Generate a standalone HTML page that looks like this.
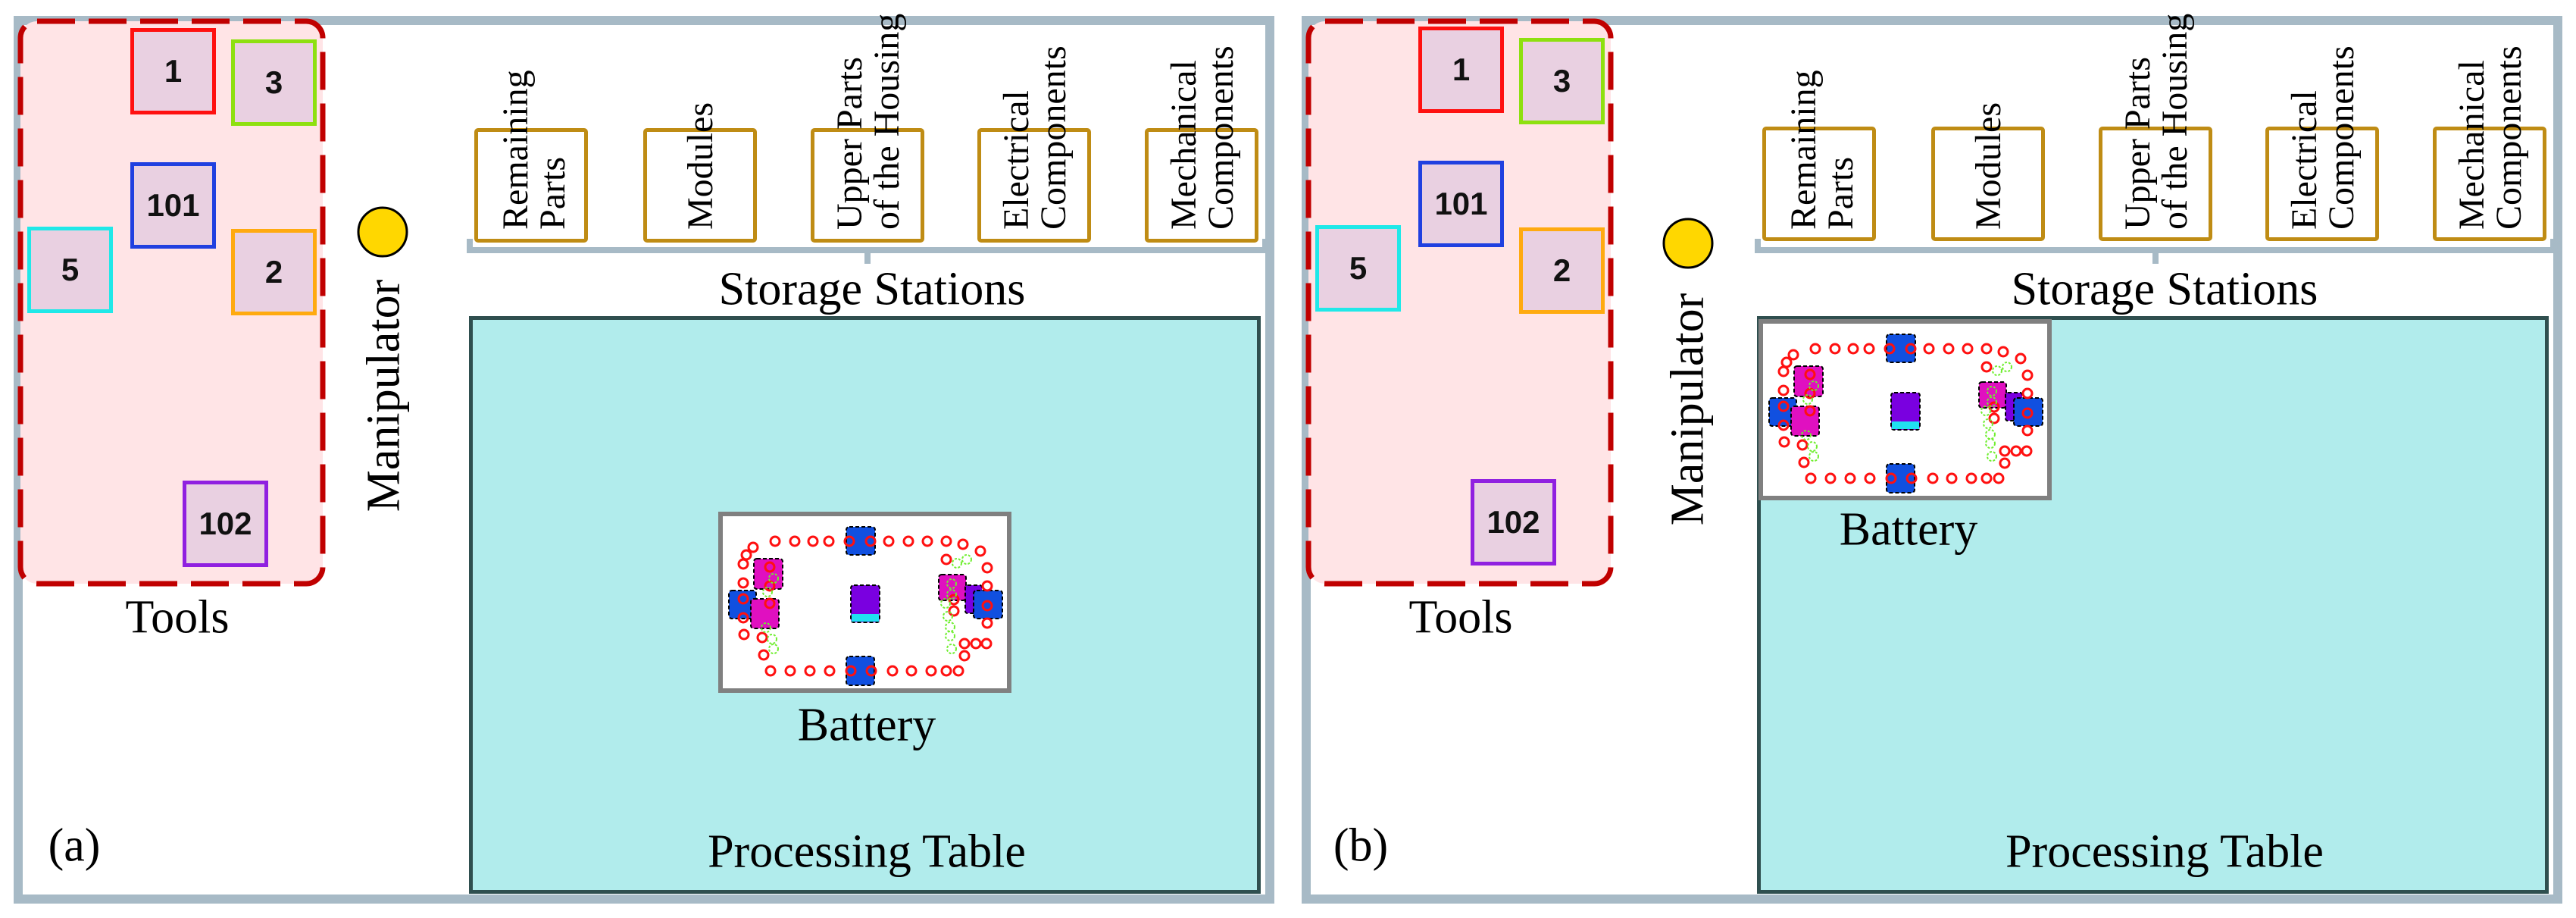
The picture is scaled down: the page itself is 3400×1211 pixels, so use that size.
<!DOCTYPE html>
<html><head><meta charset="utf-8"><style>
body{margin:0;width:3400px;height:1211px;background:#fff;position:relative;overflow:hidden;font-family:"Liberation Serif",serif}
.a{position:absolute}
.frame{border:12px solid #a7bac6;box-sizing:border-box}
.tb{position:absolute;box-sizing:border-box;border:5px solid;background:#e9d0e1;font:bold 42px "Liberation Sans",sans-serif;color:#111;display:flex;align-items:center;justify-content:center}
.st{position:absolute;box-sizing:border-box;border:5px solid #bf8c14;border-radius:5px;background:#fff;top:169px;height:151px;width:150px}
.vt{position:absolute;top:303px;transform-origin:0 0;transform:rotate(-90deg);font-family:"Liberation Serif",serif;font-size:48px;line-height:49px;white-space:nowrap;color:#000}
.lbl{position:absolute;font-family:"Liberation Serif",serif;font-size:62px;color:#000;white-space:nowrap;transform:translate(-50%,-50%)}
</style></head><body>
<svg width="0" height="0" style="position:absolute">
<defs>
<g id="bat">
<rect x="0" y="0" width="381" height="233" fill="#fff" stroke="#808080" stroke-width="6"/>
<g stroke="#000" stroke-width="2" stroke-dasharray="5 3">
<rect x="166" y="17" width="38" height="37" rx="4" fill="#1150e0"/>
<rect x="166" y="188" width="37" height="38" rx="4" fill="#1150e0"/>
<rect x="172" y="94" width="38" height="49" rx="4" fill="#7a00e0"/>
<rect x="11" y="101" width="36" height="37" rx="4" fill="#1150e0"/>
<rect x="44" y="59" width="38" height="40" rx="4" fill="#e010c0"/>
<rect x="40" y="112" width="37" height="39" rx="4" fill="#e010c0"/>
<rect x="288" y="80" width="36" height="34" rx="4" fill="#e010c0"/>
<rect x="323" y="94" width="22" height="37" rx="3" fill="#7a00e0"/>
<rect x="334" y="101" width="38" height="37" rx="4" fill="#1150e0"/>
</g>
<rect x="173" y="132" width="36" height="10" fill="#20e0f0"/>
<g fill="none" stroke="#ff1010" stroke-width="3">
<circle cx="72" cy="36" r="6"/><circle cx="98" cy="36" r="6"/><circle cx="122" cy="36" r="6"/><circle cx="143" cy="36" r="6"/><circle cx="170" cy="36" r="6"/><circle cx="198" cy="36" r="6"/><circle cx="222" cy="36" r="6"/><circle cx="248" cy="36" r="6"/><circle cx="273" cy="36" r="6"/><circle cx="298" cy="36" r="6"/><circle cx="320" cy="40" r="6"/>
<circle cx="66" cy="207" r="6"/><circle cx="92" cy="207" r="6"/><circle cx="118" cy="207" r="6"/><circle cx="144" cy="207" r="6"/><circle cx="172" cy="207" r="6"/><circle cx="199" cy="207" r="6"/><circle cx="227" cy="207" r="6"/><circle cx="252" cy="207" r="6"/><circle cx="278" cy="207" r="6"/><circle cx="298" cy="207" r="6"/><circle cx="314" cy="207" r="6"/>
<circle cx="43" cy="44" r="6"/><circle cx="34" cy="54" r="6"/><circle cx="30" cy="66" r="6"/><circle cx="30" cy="91" r="6"/><circle cx="30" cy="112" r="6"/><circle cx="30" cy="137" r="6"/><circle cx="31" cy="159" r="6"/>
<circle cx="343" cy="49" r="6"/><circle cx="352" cy="71" r="6"/><circle cx="352" cy="95" r="6"/><circle cx="352" cy="121" r="6"/><circle cx="352" cy="144" r="6"/>
<circle cx="322" cy="171" r="6"/><circle cx="337" cy="171" r="6"/><circle cx="351" cy="171" r="6"/><circle cx="322" cy="187" r="6"/>
<circle cx="55" cy="163" r="6"/><circle cx="57" cy="186" r="6"/><circle cx="65" cy="70" r="6"/><circle cx="65" cy="95" r="6"/><circle cx="65" cy="118" r="6"/><circle cx="308" cy="113" r="6"/><circle cx="308" cy="128" r="6"/><circle cx="298" cy="60" r="6"/>
</g>
<g fill="none" stroke="#70ee30" stroke-width="2" stroke-dasharray="3 2">
<circle cx="60" cy="150" r="6"/><circle cx="68" cy="165" r="6"/><circle cx="70" cy="178" r="6"/><circle cx="62" cy="103" r="6"/><circle cx="70" cy="85" r="6"/>
<circle cx="305" cy="92" r="6"/><circle cx="305" cy="106" r="6"/><circle cx="297" cy="118" r="6"/><circle cx="300" cy="135" r="6"/><circle cx="303" cy="149" r="6"/><circle cx="303" cy="161" r="6"/><circle cx="305" cy="178" r="6"/><circle cx="312" cy="65" r="6"/><circle cx="325" cy="60" r="6"/>
</g>
</g>
</defs></svg>

<!-- PANEL A -->
<div class="a frame" style="left:18px;top:21px;width:1664px;height:1171px"></div>
<svg class="a" style="left:0;top:0" width="1700" height="1211">
<rect x="27" y="28" width="399" height="742" rx="22" fill="#ffe4e6" stroke="#c00000" stroke-width="7" stroke-dasharray="50 18"/>
<path d="M620 315 V330 H1670 V315 M1145 330 V348" fill="none" stroke="#a7bac6" stroke-width="8"/>
<circle cx="505" cy="306" r="32" fill="#ffd700" stroke="#000" stroke-width="3"/>
<rect x="621.5" y="419.5" width="1040" height="757" fill="#b1ecec" stroke="#2f4f4f" stroke-width="5"/>
<use href="#bat" x="951" y="678"/>
</svg>
<div class="tb" style="left:172px;top:37px;width:113px;height:114px;border-color:#ff1010">1</div>
<div class="tb" style="left:305px;top:52px;width:113px;height:114px;border-color:#8ee010">3</div>
<div class="tb" style="left:172px;top:214px;width:113px;height:114px;border-color:#2040e0">101</div>
<div class="tb" style="left:36px;top:299px;width:113px;height:114px;border-color:#20e8e8">5</div>
<div class="tb" style="left:305px;top:302px;width:113px;height:114px;border-color:#ffaa10">2</div>
<div class="tb" style="left:241px;top:634px;width:113px;height:114px;border-color:#9020e0">102</div>
<div class="lbl" style="left:234px;top:815px">Tools</div>
<div class="lbl" style="left:507px;top:522px;transform:translate(-50%,-50%) rotate(-90deg)">Manipulator</div>
<div class="st" style="left:626px"></div><div class="st" style="left:849px"></div><div class="st" style="left:1070px"></div><div class="st" style="left:1290px"></div><div class="st" style="left:1511px"></div>
<div class="vt" style="left:656px">Remaining<br>Parts</div>
<div class="vt" style="left:900px">Modules</div>
<div class="vt" style="left:1097px">Upper Parts<br>of the Housing</div>
<div class="vt" style="left:1317px">Electrical<br>Components</div>
<div class="vt" style="left:1538px">Mechanical<br>Components</div>
<div class="lbl" style="left:1151px;top:382px">Storage Stations</div>
<div class="lbl" style="left:1144px;top:957px">Battery</div>
<div class="lbl" style="left:1144px;top:1124px">Processing Table</div>
<div class="lbl" style="left:98px;top:1116px">(a)</div>

<!-- PANEL B -->
<div class="a frame" style="left:1718px;top:21px;width:1664px;height:1171px"></div>
<svg class="a" style="left:1700px;top:0" width="1700" height="1211">
<rect x="27" y="28" width="399" height="742" rx="22" fill="#ffe4e6" stroke="#c00000" stroke-width="7" stroke-dasharray="50 18"/>
<path d="M620 315 V330 H1670 V315 M1145 330 V348" fill="none" stroke="#a7bac6" stroke-width="8"/>
<circle cx="528" cy="321" r="32" fill="#ffd700" stroke="#000" stroke-width="3"/>
<rect x="621.5" y="419.5" width="1040" height="757" fill="#b1ecec" stroke="#2f4f4f" stroke-width="5"/>
<use href="#bat" x="624" y="424"/>
</svg>
<div class="tb" style="left:1872px;top:35px;width:113px;height:114px;border-color:#ff1010">1</div>
<div class="tb" style="left:2005px;top:50px;width:113px;height:114px;border-color:#8ee010">3</div>
<div class="tb" style="left:1872px;top:212px;width:113px;height:114px;border-color:#2040e0">101</div>
<div class="tb" style="left:1736px;top:297px;width:113px;height:114px;border-color:#20e8e8">5</div>
<div class="tb" style="left:2005px;top:300px;width:113px;height:114px;border-color:#ffaa10">2</div>
<div class="tb" style="left:1941px;top:632px;width:113px;height:114px;border-color:#9020e0">102</div>
<div class="lbl" style="left:1928px;top:815px">Tools</div>
<div class="lbl" style="left:2228px;top:540px;transform:translate(-50%,-50%) rotate(-90deg)">Manipulator</div>
<div class="st" style="left:2326px;top:167px"></div><div class="st" style="left:2549px;top:167px"></div><div class="st" style="left:2770px;top:167px"></div><div class="st" style="left:2990px;top:167px"></div><div class="st" style="left:3211px;top:167px"></div>
<div class="vt" style="left:2356px">Remaining<br>Parts</div>
<div class="vt" style="left:2600px">Modules</div>
<div class="vt" style="left:2797px">Upper Parts<br>of the Housing</div>
<div class="vt" style="left:3017px">Electrical<br>Components</div>
<div class="vt" style="left:3238px">Mechanical<br>Components</div>
<div class="lbl" style="left:2857px;top:382px">Storage Stations</div>
<div class="lbl" style="left:2519px;top:699px">Battery</div>
<div class="lbl" style="left:2857px;top:1124px">Processing Table</div>
<div class="lbl" style="left:1796px;top:1116px">(b)</div>
</body></html>
